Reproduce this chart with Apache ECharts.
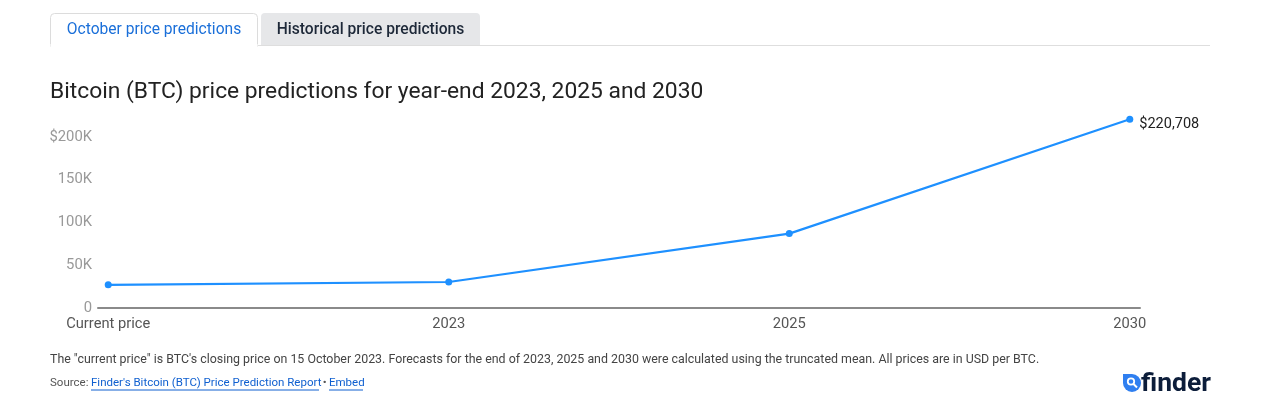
<!DOCTYPE html>
<html><head><meta charset="utf-8">
<script src="https://cdn.jsdelivr.net/npm/echarts@6/dist/echarts.min.js"></script>
<style>html,body{margin:0;padding:0;background:#fff}#c{width:1280px;height:400px}</style>
</head><body><div id="c"></div>
<script>
const categories = ['Current price', '2023', '2025', '2030'];
const prices = [27154, 30383, 87000, 220708];
const yTicks = [0, 50000, 100000, 150000, 200000];
const yTickLabels = ['0', '50K', '100K', '150K', '$200K'];

const FONT = 'Roboto, "Liberation Sans", Arial, sans-serif';
const chart = echarts.init(document.getElementById('c'), null, {renderer: 'canvas'});
const data = prices.map((v, i) => [i, v]);

chart.setOption({
  animation: false,
  textStyle: {fontFamily: FONT},
  title: {
    text: 'Bitcoin (BTC) price predictions for year-end 2023, 2025 and 2030',
    left: 45, top: 76,
    textStyle: {fontSize: 22.8, fontWeight: 'normal', color: '#222', fontFamily: FONT}
  },
  grid: {left: 98, right: 140, top: 119.3, bottom: 92, containLabel: false},
  xAxis: {
    type: 'value', min: -0.03, max: 3.03,
    axisLine: {show: true, onZero: false, lineStyle: {color: '#8a8a8a', width: 2}},
    axisTick: {show: false},
    splitLine: {show: false},
    axisLabel: {
      customValues: categories.map((c, i) => i),
      formatter: v => categories[Math.round(v)],
      color: '#555', fontSize: 14.7, margin: 9, fontFamily: FONT
    }
  },
  yAxis: {
    type: 'value', min: 0, max: 220708,
    axisLine: {show: false}, axisTick: {show: false}, splitLine: {show: false},
    axisLabel: {
      customValues: yTicks,
      formatter: v => yTickLabels[yTicks.indexOf(v)],
      color: '#999', fontSize: 14.8, margin: 6, padding: [3, 0, 0, 0], fontFamily: FONT
    }
  },
  series: [{
    type: 'line', data: data,
    lineStyle: {color: '#1e90ff', width: 2.2},
    itemStyle: {color: '#1e90ff'},
    symbol: 'circle', symbolSize: 7,
    label: {
      show: true, position: 'right', distance: 6, offset: [0, 5],
      color: '#222', fontSize: 14.5, fontFamily: FONT,
      formatter: p => p.dataIndex === prices.length - 1 ? '$' + p.value[1].toLocaleString('en-US') : ''
    }
  }],
  graphic: [
    {type: 'line', shape: {x1: 50, y1: 45.5, x2: 1210, y2: 45.5}, style: {stroke: '#dedede', lineWidth: 1}},
    {type: 'rect', shape: {x: 50.5, y: 13.5, width: 207, height: 33, r: [4, 4, 0, 0]}, style: {fill: '#fff', stroke: '#dcdcdc', lineWidth: 1}},
    {type: 'rect', shape: {x: 50.5, y: 44, width: 207, height: 3}, style: {fill: '#fff'}},
    {type: 'text', x: 154, y: 30.5, style: {text: 'October price predictions', fill: '#1a6fd9', fontSize: 15.6, fontFamily: FONT, align: 'center', verticalAlign: 'middle'}},
    {type: 'rect', shape: {x: 261, y: 13, width: 219, height: 32, r: [4, 4, 0, 0]}, style: {fill: '#e6e7e9'}},
    {type: 'text', x: 370.5, y: 30.5, style: {text: 'Historical price predictions', fill: '#1d2838', fontSize: 15.6, fontWeight: 500, fontFamily: FONT, align: 'center', verticalAlign: 'middle'}},
    {type: 'text', x: 50, y: 359.5, style: {text: 'The "current price" is BTC\'s closing price on 15 October 2023. Forecasts for the end of 2023, 2025 and 2030 were calculated using the truncated mean. All prices are in USD per BTC.', fill: '#444', fontSize: 12.4, fontFamily: FONT, verticalAlign: 'middle'}},
    {type: 'text', x: 50, y: 383.5, style: {text: 'Source: ', fill: '#555', fontSize: 11.5, fontFamily: FONT, verticalAlign: 'middle'}},
    {type: 'text', x: 91, y: 383.5, style: {text: "Finder's Bitcoin (BTC) Price Prediction Report", fill: '#1060d0', fontSize: 11.5, fontFamily: FONT, verticalAlign: 'middle'}},
    {type: 'line', shape: {x1: 91, y1: 390, x2: 319, y2: 390}, style: {stroke: '#1060d0', lineWidth: 1}},
    {type: 'text', x: 320, y: 383.5, style: {text: ' • ', fill: '#555', fontSize: 11.5, fontFamily: FONT, verticalAlign: 'middle'}},
    {type: 'text', x: 329, y: 383.5, style: {text: 'Embed', fill: '#1060d0', fontSize: 11.5, fontFamily: FONT, verticalAlign: 'middle'}},
    {type: 'line', shape: {x1: 329, y1: 390, x2: 363, y2: 390}, style: {stroke: '#1060d0', lineWidth: 1}},
    {type: 'circle', shape: {cx: 1132, cy: 383, r: 9}, style: {fill: '#2f7ff0'}},
    {type: 'rect', shape: {x: 1123, y: 374, width: 9, height: 9}, style: {fill: '#2f7ff0'}},
    {type: 'circle', shape: {cx: 1131, cy: 381.5, r: 3.2}, style: {fill: 'none', stroke: '#fff', lineWidth: 1.8}},
    {type: 'line', shape: {x1: 1133.5, y1: 384, x2: 1137, y2: 387.5}, style: {stroke: '#fff', lineWidth: 2}},
    {type: 'text', x: 1141, y: 384.5, style: {text: 'finder', fill: '#0c1d3a', fontSize: 26.5, fontWeight: 'bold', fontFamily: FONT, verticalAlign: 'middle'}}
  ]
});
</script></body></html>
